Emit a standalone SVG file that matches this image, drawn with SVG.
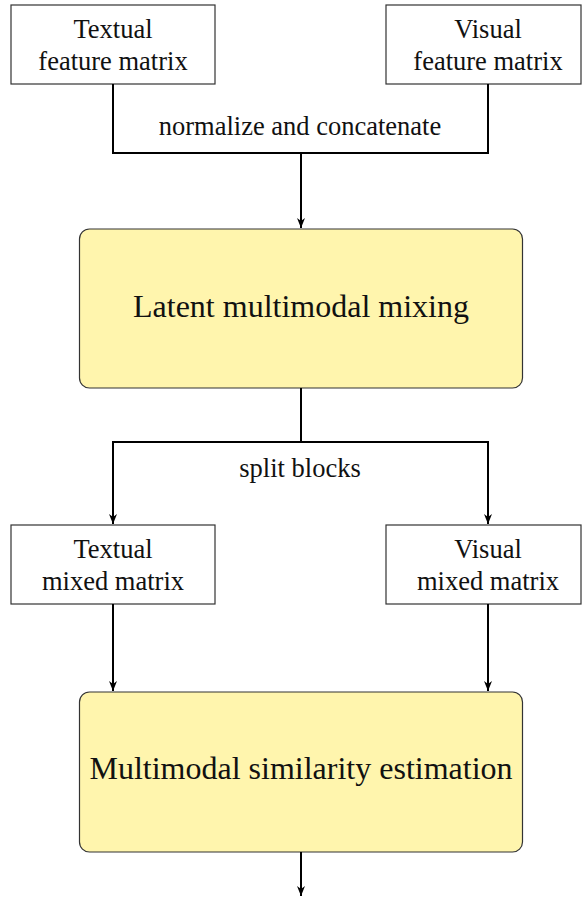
<svg xmlns="http://www.w3.org/2000/svg" width="582" height="897" viewBox="0 0 582 897">
<style>
  .box { fill: #ffffff; stroke: #333333; stroke-width: 1.2; }
  .ybox { fill: #fff5ad; stroke: #333333; stroke-width: 1.2; }
  .t { font-family: 'Liberation Serif', Tinos, 'Nimbus Roman', 'Times New Roman', Times, 'DejaVu Serif', serif; font-size: 26.5px; fill: #111111; text-anchor: middle; }
  .big { font-family: 'Liberation Serif', Tinos, 'Nimbus Roman', 'Times New Roman', Times, 'DejaVu Serif', serif; font-size: 32px; fill: #111111; text-anchor: middle; }
  .c { fill: none; stroke: #000000; stroke-width: 2; }
</style>
<defs>
  <marker id="arr" viewBox="0 0 10 8" refX="10" refY="4" markerWidth="5" markerHeight="4" orient="auto" markerUnits="strokeWidth">
    <path d="M0,0 L10,4 L0,8 L3,4 z" fill="#000000"/>
  </marker>
</defs>
<g id="textual-feature">
  <rect class="box" x="11" y="5" width="204" height="79"/>
  <text class="t" x="113" y="38">Textual</text>
  <text class="t" x="113" y="70">feature matrix</text>
</g>
<g id="visual-feature">
  <rect class="box" x="386" y="5" width="195" height="79"/>
  <text class="t" x="488" y="38">Visual</text>
  <text class="t" x="488" y="70">feature matrix</text>
</g>
<g id="latent-mixing">
  <rect class="ybox" x="79.5" y="229" width="443" height="159" rx="10" ry="10"/>
  <text class="big" x="301" y="317">Latent multimodal mixing</text>
</g>
<g id="textual-mixed">
  <rect class="box" x="11" y="525" width="204" height="79"/>
  <text class="t" x="113" y="558">Textual</text>
  <text class="t" x="113" y="590">mixed matrix</text>
</g>
<g id="visual-mixed">
  <rect class="box" x="386" y="525" width="195" height="79"/>
  <text class="t" x="488" y="558">Visual</text>
  <text class="t" x="488" y="590">mixed matrix</text>
</g>
<g id="similarity">
  <rect class="ybox" x="79.5" y="692" width="443" height="160" rx="10" ry="10"/>
  <text class="big" x="301" y="779">Multimodal similarity estimation</text>
</g>
<g id="connectors">
  <path class="c" d="M113,84 V153 H488 V84"/>
  <text class="t" x="300" y="135">normalize and concatenate</text>
  <path class="c" d="M301,153 V228" marker-end="url(#arr)"/>
  <path class="c" d="M301,388 V442"/>
  <path class="c" d="M301,442 H113 V524" marker-end="url(#arr)"/>
  <path class="c" d="M301,442 H488 V524" marker-end="url(#arr)"/>
  <text class="t" x="300" y="477">split blocks</text>
  <path class="c" d="M113,604 V691" marker-end="url(#arr)"/>
  <path class="c" d="M488,604 V691" marker-end="url(#arr)"/>
  <path class="c" d="M301,852 V896" marker-end="url(#arr)"/>
</g>
</svg>
